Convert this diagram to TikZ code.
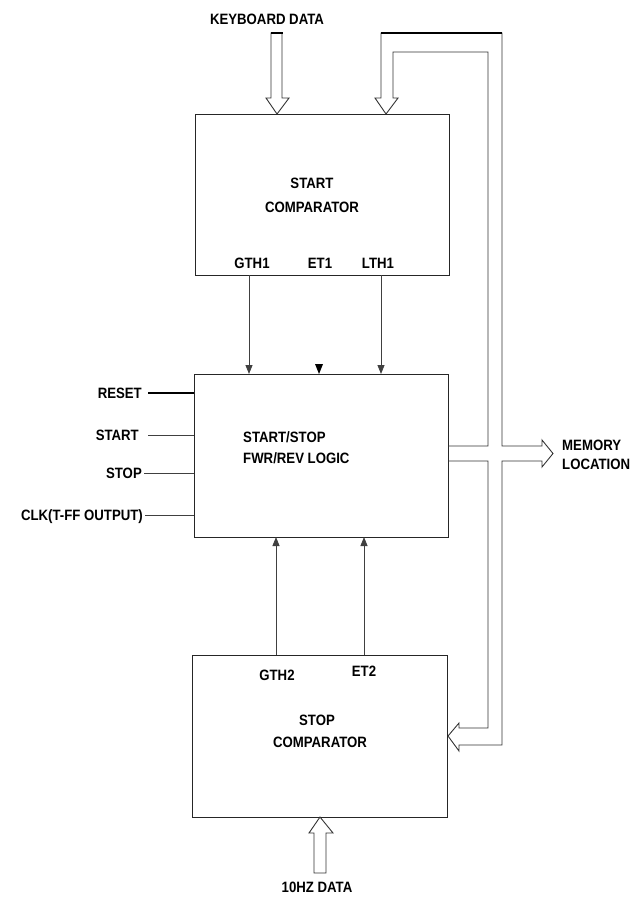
\documentclass[tikz,border=0pt]{standalone}
\usepackage{fontspec}
\setmainfont{Liberation Sans}[FakeStretch=0.88]
\usetikzlibrary{arrows.meta}
\tikzset{
  box/.style={draw=black!85, line width=0.9pt, anchor=north west, inner sep=0pt},
  lbl/.style={inner sep=0pt, text height=10.7pt, text depth=0pt, font=\fontsize{15}{18}\selectfont\bfseries},
  wire/.style={draw=black!75, line width=0.9pt},
  sig/.style={wire, -{Triangle[width=7pt,length=9pt]}},
  bus/.style={draw=black!80, line width=0.9pt, line join=miter},
}
\begin{document}
\begin{tikzpicture}[x=1pt,y=-1pt]
\useasboundingbox (0,0) rectangle (632,897);
% boxes
\node[box, minimum width=254pt, minimum height=161pt] (cmp1) at (195,114) {};
\node[box, minimum width=254pt, minimum height=163pt] (logic) at (194,374) {};
\node[box, minimum width=255pt, minimum height=162pt] (cmp2) at (192,655) {};

% box texts
\node[lbl] (t1a) at (312,183) {START};
\node[lbl] (t1b) at (312,207) {COMPARATOR};
\node[lbl, anchor=west] (t2a) at (243,437) {START/STOP};
\node[lbl, anchor=west] (t2b) at (243,458) {FWR/REV LOGIC};
\node[lbl] (t3a) at (317,720) {STOP};
\node[lbl] (t3b) at (320,742) {COMPARATOR};

% port labels
\node[lbl] (gth1) at (252,263) {GTH1};
\node[lbl] (et1) at (320,263) {ET1};
\node[lbl] (lth1) at (378,263) {LTH1};
\node[lbl] (gth2) at (277,675) {GTH2};
\node[lbl] (et2) at (364,671) {ET2};

% external labels
\node[lbl] (kbd) at (267,19) {KEYBOARD DATA};
\node[lbl] (hz) at (317,887) {10HZ DATA};
\node[lbl, anchor=west] (mem1) at (562,445) {MEMORY};
\node[lbl, anchor=west] (mem2) at (562,464) {LOCATION};
\node[lbl, anchor=east] (reset) at (142,393) {RESET};
\node[lbl, anchor=east] (start) at (139,435) {START};
\node[lbl, anchor=east] (stop) at (142,473) {STOP};
\node[lbl, anchor=east] (clk) at (143,515) {CLK(T-FF OUTPUT)};

% input wires
\draw[wire, line width=1.5pt, draw=black] (148,393) -- (reset.east -| logic.west);
\draw[wire] (148,435) -- (start.east -| logic.west);
\draw[wire] (144,473) -- (stop.east -| logic.west);
\draw[wire] (145,515) -- (clk.east -| logic.west);

% signals between comparators and logic
\draw[sig] (249,275) -- (249,374);
\draw[sig] (381,275) -- (381,374);
\fill[black] (315,364) -- (323,364) -- (319,374) -- cycle;
\draw[sig] (276,655) -- (276,537);
\draw[sig] (364,655) -- (364,537);

% keyboard data hollow arrow
\draw[bus] (271,33) -- (282,33) -- (282,98) -- (289,98) -- (277,114) -- (266,98) -- (271,98) -- cycle;
\draw[draw=black, line width=1.6pt] (270.5,33) -- (282.5,33);

% 10 Hz data hollow arrow
\draw[bus] (314,873) -- (326,873) -- (326,833) -- (333,833) -- (320,817) -- (309,833) -- (314,833) -- cycle;

% memory bus
\draw[bus] (448,446) -- (488,446) -- (488,52) -- (393,52) -- (393,98) -- (398,98)
  -- (386,114) -- (375,98) -- (381,98) -- (381,33) -- (502,33) -- (502,446)
  -- (542,446) -- (542,440) -- (553,453.5) -- (542,467) -- (542,461) -- (502,461)
  -- (502,745) -- (459,745) -- (459,751) -- (448,736) -- (459,723) -- (459,728)
  -- (488,728) -- (488,461) -- (448,461);
\draw[draw=black, line width=1.6pt] (381,33) -- (502,33);
\end{tikzpicture}
\end{document}
